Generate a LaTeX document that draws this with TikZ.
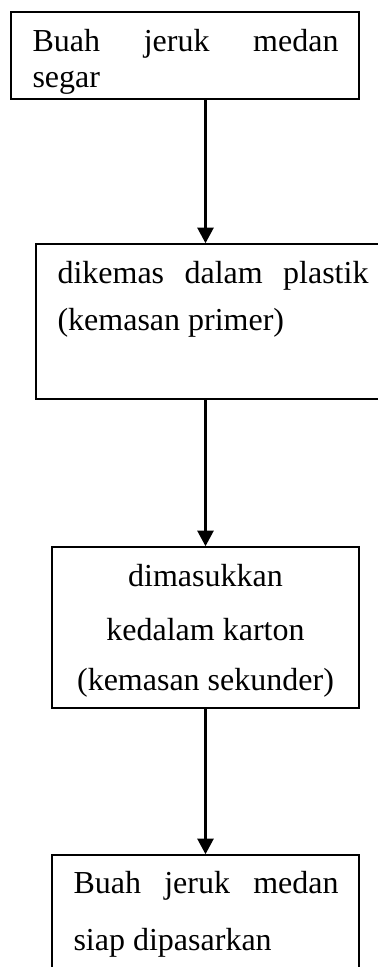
\documentclass[tikz,border=0pt]{standalone}
\usepackage{fontspec}
\setmainfont{Liberation Serif}
\usetikzlibrary{fit,arrows.meta}
\begin{document}
\begin{tikzpicture}[x=0.375pt,y=-0.375pt,
  box/.style={draw,line width=0.6pt,inner sep=0pt},
  txt/.style={inner sep=0pt,anchor=base west,font=\fontsize{12pt}{14pt}\selectfont},
  ctxt/.style={inner sep=0pt,anchor=base,font=\fontsize{12pt}{14pt}\selectfont},
  arr/.style={line width=0.85pt,-{Triangle[width=6pt,length=5.8pt]}}]
\useasboundingbox (0,0) rectangle (377,967);
\node[box,fit={(11,12) (359,99)}] (b1) {};
\node[box,fit={(36,244) (400,399)}] (b2) {};
\node[box,fit={(52,547) (359,708)}] (b3) {};
\node[box,fit={(52,855) (359,995)}] (b4) {};
% texts
\node[txt] (t1a) at (32,52) {\makebox[114.75pt][s]{Buah jeruk medan}};
\node[txt] (t1b) at (32,87) {segar};
\node[txt] (t2a) at (57,283) {\makebox[116.6pt][s]{dikemas dalam plastik}};
\node[txt] (t2b) at (57,330) {(kemasan primer)};
\node[ctxt] (t3a) at (205.5,586) {dimasukkan};
\node[ctxt] (t3b) at (205.5,640) {kedalam karton};
\node[ctxt] (t3c) at (205.5,690) {(kemasan sekunder)};
\node[txt] (t4a) at (73,893) {\makebox[99.4pt][s]{Buah jeruk medan}};
\node[txt] (t4b) at (73,950) {siap dipasarkan};
% arrows
\draw[arr] (b1.south -| b3.north) -- (b2.north -| b3.north);
\draw[arr] (b2.south -| b3.north) -- (b3.north);
\draw[arr] (b3.south) -- (b4.north);
\end{tikzpicture}
\end{document}
